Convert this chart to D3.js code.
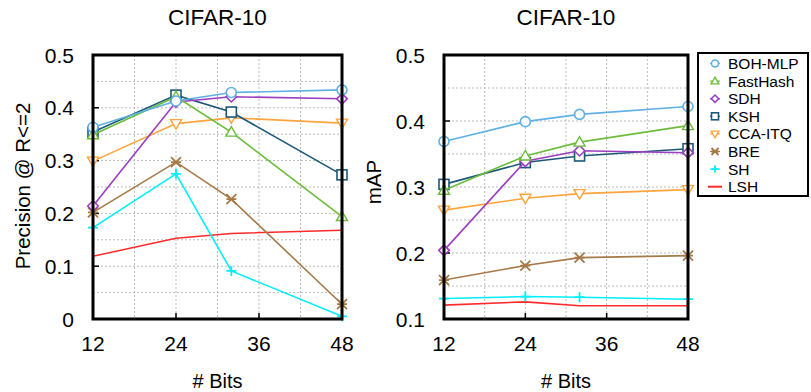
<!DOCTYPE html>
<html>
<head>
<meta charset="utf-8">
<script src="https://cdn.jsdelivr.net/npm/d3@7"></script>
<style>
  body { margin: 0; background: #fff; }
  svg { font-family: "Liberation Sans", Arial, sans-serif; }
</style>
</head>
<body>
<div id="container"></div>
<script>
const { d3 } = window;

const bits = [12, 24, 32, 48];
const xTicks = [12, 24, 36, 48];
const methods = ['BOH-MLP', 'FastHash', 'SDH', 'KSH', 'CCA-ITQ', 'BRE', 'SH', 'LSH'];
const colors = ['#5fb0e3', '#6cbd3c', '#9a3fbf', '#1c5878', '#ffa43c', '#a67a48', '#00eefc', '#ff2a2a'];
const markers = ['circle', 'triangle', 'diamond', 'square', 'triangleDown', 'asterisk', 'plus', 'none'];

// precision @ hamming radius 2
const precBOH = [0.363, 0.413, 0.429, 0.434];
const precFastHash = [0.349, 0.421, 0.354, 0.194];
const precSDH = [0.214, 0.411, 0.421, 0.417];
const precKSH = [0.354, 0.424, 0.392, 0.273];
const precCCA = [0.299, 0.370, 0.381, 0.371];
const precBRE = [0.202, 0.297, 0.227, 0.028];
const precSH = [0.173, 0.275, 0.091, 0.005];
const precLSH = [0.119, 0.153, 0.162, 0.168];

// mAP
const mapBOH = [0.369, 0.399, 0.410, 0.422];
const mapFastHash = [0.295, 0.347, 0.368, 0.393];
const mapSDH = [0.204, 0.339, 0.355, 0.352];
const mapKSH = [0.304, 0.337, 0.347, 0.358];
const mapCCA = [0.265, 0.283, 0.290, 0.296];
const mapBRE = [0.159, 0.181, 0.193, 0.196];
const mapSH = [0.131, 0.134, 0.133, 0.130];
const mapLSH = [0.121, 0.126, 0.120, 0.120];

const precSeries = [precBOH, precFastHash, precSDH, precKSH, precCCA, precBRE, precSH, precLSH];
const mapSeries = [mapBOH, mapFastHash, mapSDH, mapKSH, mapCCA, mapBRE, mapSH, mapLSH];

const svg = d3.select('#container').append('svg')
  .attr('width', 811)
  .attr('height', 392);

function drawMarker(g, type, x, y, s, color) {
  const h = s / 2;
  if (type === 'circle') {
    g.append('circle').attr('cx', x).attr('cy', y).attr('r', h)
      .attr('fill', '#fff').attr('stroke', color).attr('stroke-width', 1.6);
  } else if (type === 'square') {
    g.append('rect').attr('x', x - h).attr('y', y - h).attr('width', s).attr('height', s)
      .attr('fill', '#fff').attr('stroke', color).attr('stroke-width', 1.6);
  } else if (type === 'triangle' || type === 'triangleDown') {
    const d = type === 'triangle' ? -1 : 1;
    const pts = [[x, y + d * h * 1.1], [x - h * 1.1, y - d * h * 0.8], [x + h * 1.1, y - d * h * 0.8]];
    g.append('path').attr('d', `M${pts.join('L')}Z`)
      .attr('fill', '#fff').attr('stroke', color).attr('stroke-width', 1.4);
  } else if (type === 'diamond') {
    const pts = [[x, y - h * 1.05], [x + h * 1.05, y], [x, y + h * 1.05], [x - h * 1.05, y]];
    g.append('path').attr('d', `M${pts.join('L')}Z`)
      .attr('fill', '#fff').attr('stroke', color).attr('stroke-width', 1.6);
  } else if (type === 'asterisk') {
    g.append('path')
      .attr('d', `M${x - h},${y - h}L${x + h},${y + h}M${x - h},${y + h}L${x + h},${y - h}M${x - h},${y}L${x + h},${y}`)
      .attr('stroke', color).attr('stroke-width', 1.8).attr('fill', 'none');
  } else if (type === 'plus') {
    g.append('path')
      .attr('d', `M${x - h},${y}L${x + h},${y}M${x},${y - h}L${x},${y + h}`)
      .attr('stroke', color).attr('stroke-width', 1.8).attr('fill', 'none');
  }
}

function drawPanel(opts) {
  const { left, right, top, bottom, yDomain, yTicks, yLabel, series } = opts;
  const g = svg.append('g');
  const x = d3.scaleLinear().domain([12, 48]).range([left, right]);
  const y = d3.scaleLinear().domain(yDomain).range([bottom, top]);

  // grid
  const gx = d3.range(12, 49, 6);
  const gy = d3.range(yDomain[0], yDomain[1] + 0.001, 0.05);
  g.selectAll('.gx').data(gx).join('line')
    .attr('x1', (d) => x(d)).attr('x2', (d) => x(d))
    .attr('y1', top).attr('y2', bottom)
    .attr('stroke', '#bbb').attr('stroke-width', 1).attr('stroke-dasharray', '2,2');
  g.selectAll('.gy').data(gy).join('line')
    .attr('x1', left).attr('x2', right)
    .attr('y1', (d) => y(d)).attr('y2', (d) => y(d))
    .attr('stroke', '#bbb').attr('stroke-width', 1).attr('stroke-dasharray', '2,2');

  // inner ticks
  g.selectAll('.tx').data(xTicks).join('line')
    .attr('x1', (d) => x(d)).attr('x2', (d) => x(d))
    .attr('y1', bottom).attr('y2', bottom - 6)
    .attr('stroke', '#000').attr('stroke-width', 1.5);
  g.selectAll('.ty').data(yTicks).join('line')
    .attr('x1', left).attr('x2', left + 6)
    .attr('y1', (d) => y(d)).attr('y2', (d) => y(d))
    .attr('stroke', '#000').attr('stroke-width', 1.5);

  // lines + markers (draw in reverse so first series is on top)
  const line = d3.line().x((d, i) => x(bits[i])).y((d) => y(d));
  for (let k = series.length - 1; k >= 0; k -= 1) {
    g.append('path').datum(series[k]).attr('d', line)
      .attr('fill', 'none').attr('stroke', colors[k]).attr('stroke-width', 1.6);
    series[k].forEach((v, i) => drawMarker(g, markers[k], x(bits[i]), y(v), 10, colors[k]));
  }

  // frame
  g.append('rect').attr('x', left).attr('y', top)
    .attr('width', right - left).attr('height', bottom - top)
    .attr('fill', 'none').attr('stroke', '#000').attr('stroke-width', 3);

  // tick labels
  g.selectAll('.lx').data(xTicks).join('text')
    .attr('x', (d) => x(d)).attr('y', bottom + 32)
    .attr('text-anchor', 'middle').attr('font-size', 21).text((d) => d);
  g.selectAll('.ly').data(yTicks).join('text')
    .attr('x', left - 19).attr('y', (d) => y(d) + 7.5)
    .attr('text-anchor', 'end').attr('font-size', 21)
    .text((d) => (d === 0 ? '0' : d3.format('.1f')(d)));

  const cx = (left + right) / 2;
  g.append('text').attr('x', cx).attr('y', 25).attr('text-anchor', 'middle')
    .attr('font-size', 22.5).text('CIFAR-10');
  g.append('text').attr('x', cx).attr('y', 388).attr('text-anchor', 'middle')
    .attr('font-size', 20).text('# Bits');
  g.append('text')
    .attr('transform', `translate(${opts.yLabelX},${opts.yLabelY}) rotate(-90)`)
    .attr('text-anchor', 'middle').attr('font-size', 20.5).text(yLabel);
}

drawPanel({
  left: 93, right: 342, top: 55, bottom: 319,
  yDomain: [0, 0.5], yTicks: [0, 0.1, 0.2, 0.3, 0.4, 0.5],
  yLabel: 'Precision @ R<=2', yLabelX: 30, yLabelY: 186, series: precSeries,
});

drawPanel({
  left: 444, right: 688, top: 55, bottom: 319,
  yDomain: [0.1, 0.5], yTicks: [0.1, 0.2, 0.3, 0.4, 0.5],
  yLabel: 'mAP', yLabelX: 381, yLabelY: 182, series: mapSeries,
});

// legend
const legend = svg.append('g');
legend.append('rect').attr('x', 698).attr('y', 53).attr('width', 110).attr('height', 143)
  .attr('fill', '#fff').attr('stroke', '#000').attr('stroke-width', 2);
methods.forEach((m, i) => {
  const ly = 63.5 + i * 17.6;
  if (markers[i] === 'none') {
    legend.append('line').attr('x1', 708).attr('x2', 722).attr('y1', ly).attr('y2', ly)
      .attr('stroke', colors[i]).attr('stroke-width', 2);
  } else {
    legend.append('line').attr('x1', 710).attr('x2', 720).attr('y1', ly).attr('y2', ly)
      .attr('stroke', colors[i]).attr('stroke-width', 1.2);
    drawMarker(legend, markers[i], 715, ly, 7, colors[i]);
  }
  legend.append('text').attr('x', 728).attr('y', ly + 5.5)
    .attr('font-size', 15.5).text(m);
});
</script>
</body>
</html>
